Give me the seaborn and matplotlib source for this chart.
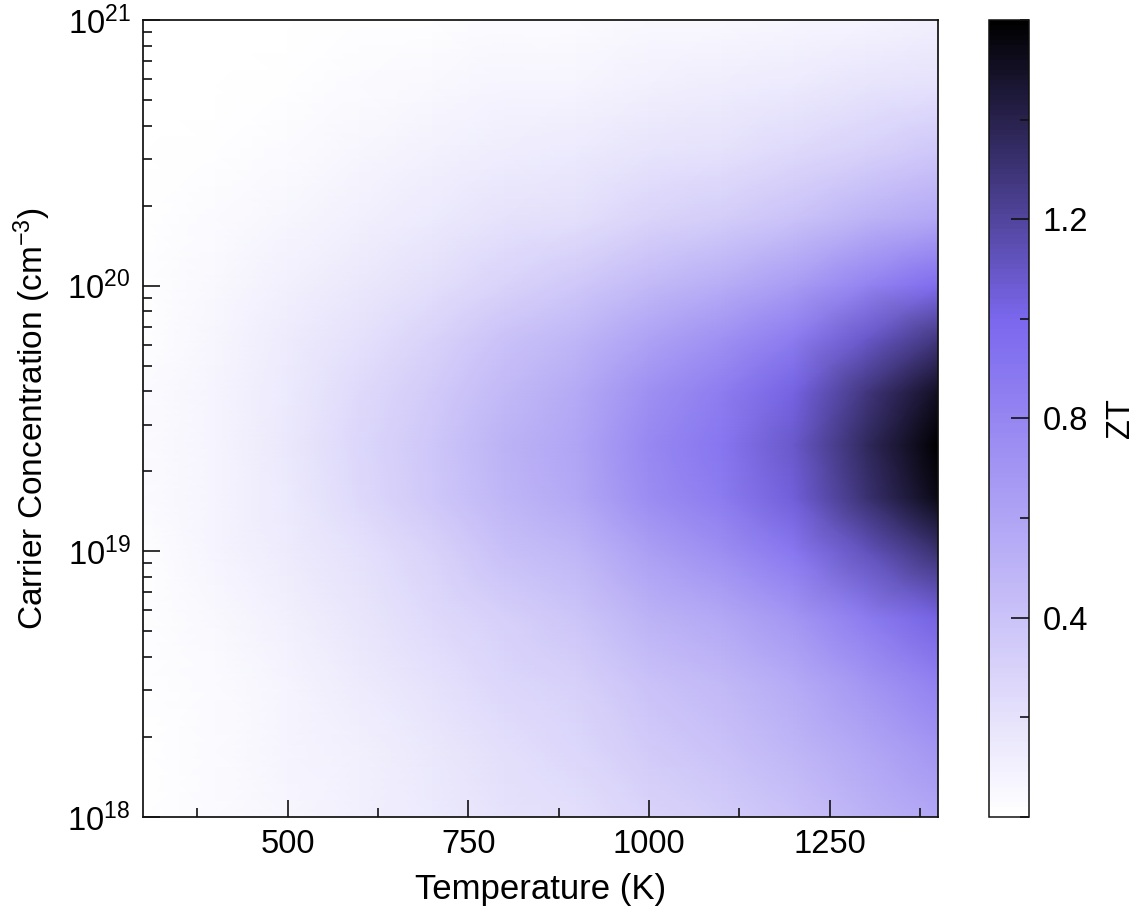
import numpy as np
import matplotlib
matplotlib.use("Agg")
import matplotlib.pyplot as plt
import seaborn as sns
from matplotlib.colors import ListedColormap
from matplotlib.ticker import MultipleLocator, LogLocator

# temperature grid (K) and carrier concentration grid (log10 cm^-3)
temperatures = [300, 400, 500, 600, 700, 800, 900, 1000, 1100, 1200, 1300, 1400]
log_conc = [18.0, 18.25, 18.5, 18.75, 19.0, 19.2, 19.4, 19.6, 19.8, 20.0, 20.25, 20.5, 20.75, 21.0]

# ZT, one row per concentration (bottom -> top)
zt = [
    [0.01, 0.03, 0.06, 0.10, 0.14, 0.19, 0.22, 0.29, 0.33, 0.40, 0.50, 0.59],
    [0.01, 0.04, 0.07, 0.11, 0.16, 0.22, 0.26, 0.34, 0.40, 0.48, 0.59, 0.70],
    [0.02, 0.04, 0.08, 0.13, 0.19, 0.26, 0.31, 0.40, 0.46, 0.55, 0.69, 0.82],
    [0.02, 0.05, 0.10, 0.17, 0.24, 0.32, 0.38, 0.50, 0.58, 0.69, 0.86, 1.02],
    [0.02, 0.07, 0.13, 0.21, 0.30, 0.41, 0.49, 0.64, 0.74, 0.89, 1.11, 1.31],
    [0.03, 0.08, 0.15, 0.25, 0.36, 0.48, 0.58, 0.75, 0.86, 1.04, 1.30, 1.54],
    [0.03, 0.08, 0.16, 0.26, 0.37, 0.50, 0.60, 0.78, 0.90, 1.08, 1.35, 1.60],
    [0.03, 0.08, 0.15, 0.24, 0.35, 0.47, 0.56, 0.73, 0.85, 1.02, 1.27, 1.50],
    [0.02, 0.06, 0.13, 0.21, 0.30, 0.40, 0.48, 0.62, 0.72, 0.86, 1.08, 1.28],
    [0.02, 0.05, 0.10, 0.16, 0.22, 0.30, 0.36, 0.47, 0.54, 0.65, 0.81, 0.96],
    [0.01, 0.03, 0.06, 0.10, 0.14, 0.19, 0.22, 0.29, 0.33, 0.40, 0.50, 0.59],
    [0.01, 0.02, 0.04, 0.06, 0.09, 0.12, 0.14, 0.18, 0.21, 0.25, 0.31, 0.37],
    [0.00, 0.01, 0.02, 0.03, 0.05, 0.07, 0.08, 0.10, 0.12, 0.14, 0.18, 0.21],
    [0.00, 0.00, 0.01, 0.02, 0.02, 0.03, 0.04, 0.05, 0.05, 0.06, 0.08, 0.10],
]

sns.set_theme(style="ticks")
plt.rcParams['font.family'] = ['Liberation Sans', 'DejaVu Sans']
plt.rcParams['mathtext.default'] = 'regular'
plt.rcParams['axes.edgecolor'] = '#111111'
plt.rcParams['axes.axisbelow'] = False
plt.rcParams['text.color'] = 'black'
plt.rcParams['axes.labelcolor'] = 'black'
plt.rcParams['xtick.color'] = 'black'
plt.rcParams['ytick.color'] = 'black'

# white -> medium slate blue -> black, purple at ZT ~ 1.0
colors = sns.blend_palette(["white", "#7B68EE"], 100) + sns.blend_palette(["#7B68EE", "black"], 61)[1:]
cmap = ListedColormap(colors)

fig = plt.figure(figsize=(11.41, 9.16), dpi=100)
ax = fig.add_axes([0.1253, 0.1081, 0.6968, 0.8701])
cax = fig.add_axes([0.8668, 0.1081, 0.0351, 0.8701])

T, C = np.meshgrid(temperatures, 10 ** np.array(log_conc))
mesh = ax.pcolormesh(T, C, np.array(zt), cmap=cmap, vmin=0, vmax=1.6,
                     shading='gouraud', rasterized=True, zorder=0)
ax.set_axisbelow(False)
ax.set_yscale('log')
ax.set_xlim(300, 1400)
ax.set_ylim(1e18, 1e21)

ax.xaxis.set_major_locator(MultipleLocator(250))
ax.xaxis.set_minor_locator(MultipleLocator(125))
ax.yaxis.set_major_locator(LogLocator(base=10))
ax.yaxis.set_minor_locator(LogLocator(base=10, subs=np.arange(2, 10)))
ax.tick_params(which='both', direction='in', top=False, right=False,
               labelsize=23.5, width=1.2, color='#111111', pad=9)
ax.tick_params(which='major', length=12)
ax.tick_params(which='minor', length=6.5)

ax.set_xlabel('Temperature (K)', fontsize=25, labelpad=9)
ax.set_ylabel('Carrier Concentration (cm$^{-3}$)', fontsize=24, labelpad=10)

cb = fig.colorbar(mesh, cax=cax)
cb.ax.set_axisbelow(False)
cb.outline.set_linewidth(1.1)
cb.outline.set_edgecolor('#111111')
cb.set_ticks([0.4, 0.8, 1.2])
cb.ax.yaxis.set_minor_locator(MultipleLocator(0.2))
cb.ax.tick_params(which='both', direction='in', right=True, left=False,
                  labelsize=23.5, width=1.2, color='#111111', pad=10)
cb.ax.tick_params(which='major', length=13)
cb.ax.tick_params(which='minor', length=6.5)
cb.set_label('ZT', fontsize=23.5, labelpad=12)

fig.savefig('out.png', dpi=100)
